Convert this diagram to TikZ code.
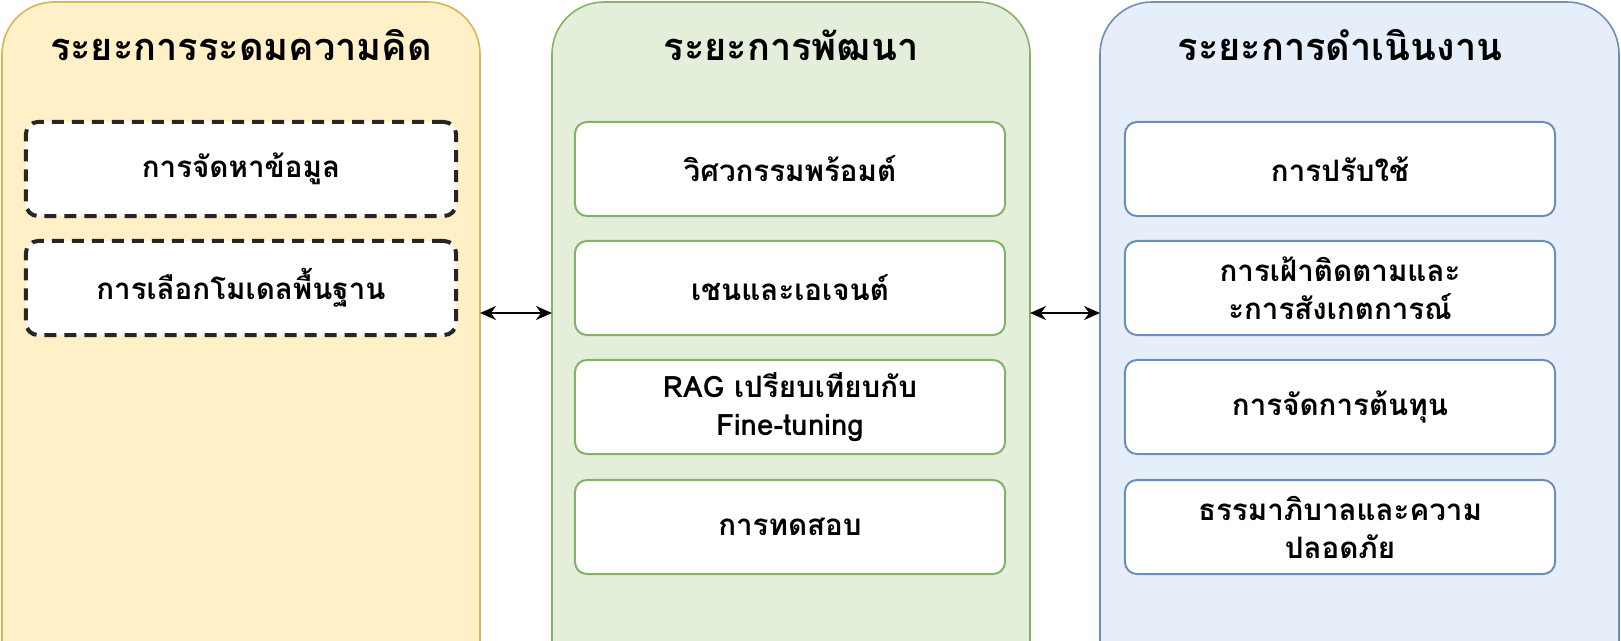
\documentclass[tikz,border=0pt]{standalone}
\usepackage{fontspec}
\setmainfont[Script=Thai]{Loma}
\usepackage{tikz}
\usetikzlibrary{arrows.meta}
\definecolor{ideafill}{HTML}{FFF0C8}
\definecolor{ideadraw}{HTML}{D6B656}
\definecolor{devfill}{HTML}{E3EFDA}
\definecolor{devdraw}{HTML}{82B366}
\definecolor{opsfill}{HTML}{E6EEFA}
\definecolor{opsdraw}{HTML}{6C8EBF}
\tikzset{
  phase/.style={rounded corners=1.3cm, line width=0.4mm},
  stepbox/.style={draw, fill=white, rounded corners=0.3cm, line width=0.5mm, minimum width=10.75cm, minimum height=2.35cm, align=center, font=\fontsize{21}{27}\selectfont\bfseries},
  phasetitle/.style={font=\fontsize{27}{32}\selectfont\bfseries},
  link/.style={line width=0.6mm, {Stealth[length=4mm,width=3.5mm]}-{Stealth[length=4mm,width=3.5mm]}}
}
\begin{document}
\begin{tikzpicture}[x=0.025cm,y=-0.025cm]
\useasboundingbox (0,0) rectangle (1621,640);
\clip (0,0) rectangle (1621,640);
% phases
\draw[phase, fill=ideafill, draw=ideadraw] (2,2) rectangle (480,720);
\draw[phase, fill=devfill, draw=devdraw] (552,2) rectangle (1030,720);
\draw[phase, fill=opsfill, draw=opsdraw] (1100,2) rectangle (1619,720);
\node[phasetitle] (t1) at (241,45) {ระยะการระดมความคิด};
\node[phasetitle] (t2) at (791,45) {ระยะการพัฒนา};
\node[phasetitle] (t3) at (1340,45) {ระยะการดำเนินงาน};
% ideation
\node[stepbox, draw=black!85, dash pattern=on 3mm off 2mm, line width=1mm] (a1) at (241,169) {การจัดหาข้อมูล};
\node[stepbox, draw=black!85, dash pattern=on 3mm off 2mm, line width=1mm] (a2) at (241,288) {การเลือกโมเดลพื้นฐาน};
% development
\node[stepbox, draw=devdraw] (b1) at (790,169) {วิศวกรรมพร้อมต์};
\node[stepbox, draw=devdraw] (b2) at (790,288) {เชนและเอเจนต์};
\node[stepbox, draw=devdraw] (b3) at (790,407) {RAG เปรียบเทียบกับ\\Fine-tuning};
\node[stepbox, draw=devdraw] (b4) at (790,527) {การทดสอบ};
% operations
\node[stepbox, draw=opsdraw] (c1) at (1340,169) {การปรับใช้};
\node[stepbox, draw=opsdraw] (c2) at (1340,288) {การเฝ้าติดตามและ\\ะการสังเกตการณ์};
\node[stepbox, draw=opsdraw] (c3) at (1340,407) {การจัดการต้นทุน};
\node[stepbox, draw=opsdraw] (c4) at (1340,527) {ธรรมาภิบาลและความ\\ปลอดภัย};
% links
\coordinate (l1) at (480,313);
\coordinate (r1) at (552,313);
\coordinate (l2) at (1030,313);
\coordinate (r2) at (1100,313);
\draw[link] (l1) -- (r1);
\draw[link] (l2) -- (r2);
\end{tikzpicture}
\end{document}
